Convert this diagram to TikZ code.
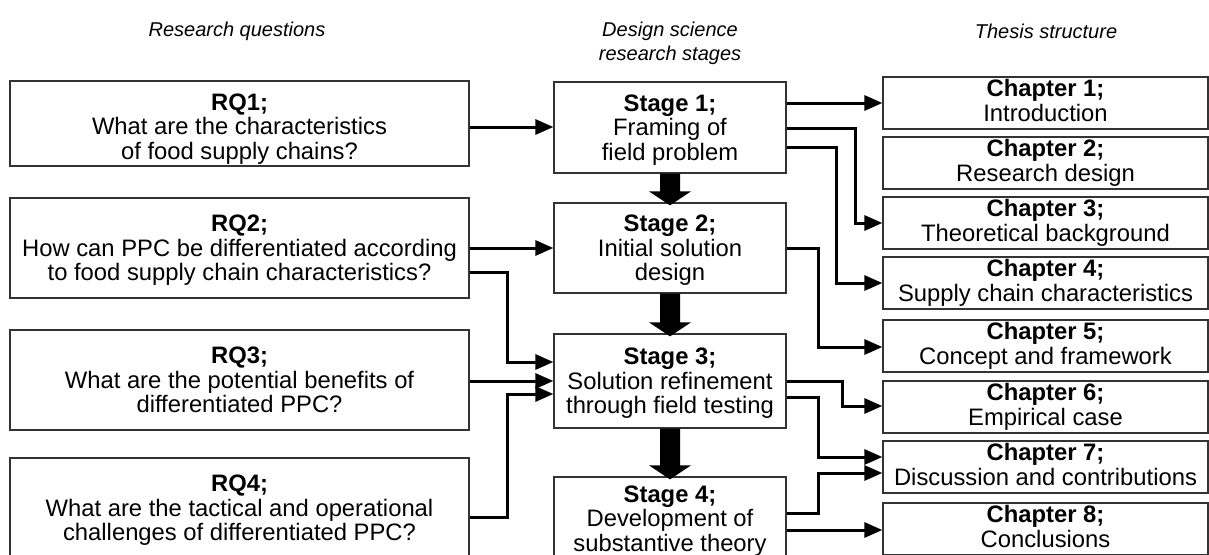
\documentclass[tikz,border=0pt]{standalone}
\usepackage{fontspec}
\setmainfont{Liberation Sans}
\usetikzlibrary{arrows.meta,calc}
% fixed line struts so that every box centres its lines the same way
\newcommand\firstline[1]{\rule{0pt}{#1}}
\newcommand\lastline{\rule[-6pt]{0pt}{6pt}}
\begin{document}
\begin{tikzpicture}[x=1pt,y=-1pt,
  box/.style={draw=black!80, line width=1.3pt, fill=white, inner sep=0pt,
    align=center, font=\fontsize{23.8}{24.5}\selectfont},
  rqbox/.style={box, minimum width=459pt},
  stagebox/.style={box, minimum width=232pt},
  chapbox/.style={box, minimum width=325pt, minimum height=52pt},
  colhead/.style={font=\fontsize{20}{24}\selectfont\itshape, align=center},
  link/.style={line width=3pt, -{Triangle[length=18pt,width=15pt]}},
]
\clip (0,0) rectangle (1209,554);
\fill[white] (0,0) rectangle (1209,554);

% column headings
\node[colhead] (hrq) at (237,31) {Research questions};
\node[colhead] (hds) at (670,43) {Design science\\research stages};
\node[colhead] (hts) at (1046,31) {Thesis structure};

% research questions
\node[rqbox, minimum height=85pt] (rq1) at (239.5,123.5)
  {\firstline{28pt}\textbf{RQ1;}\\What are the characteristics\\of food supply chains?\lastline};
\node[rqbox, minimum height=100pt] (rq2) at (239.5,248)
  {\firstline{22pt}\textbf{RQ2;}\\How can PPC be differentiated according\\to food supply chain characteristics?\lastline};
\node[rqbox, minimum height=100pt] (rq3) at (239.5,380)
  {\firstline{22pt}\textbf{RQ3;}\\What are the potential benefits of\\differentiated PPC?\lastline};
\node[rqbox, minimum height=100pt] (rq4) at (239.5,508)
  {\firstline{22pt}\textbf{RQ4;}\\What are the tactical and operational\\challenges of differentiated PPC?\lastline};

% design science stages
\node[stagebox, minimum height=91pt] (s1) at (670,127.5)
  {\firstline{22pt}\textbf{Stage 1;}\\Framing of\\field problem\lastline};
\node[stagebox, minimum height=90pt] (s2) at (670,248)
  {\firstline{22pt}\textbf{Stage 2;}\\Initial solution\\design\lastline};
\node[stagebox, minimum height=94pt] (s3) at (670,381)
  {\firstline{22pt}\textbf{Stage 3;}\\Solution refinement\\through field testing\lastline};
\node[stagebox, minimum height=88pt] (s4) at (670,521)
  {\firstline{16pt}\textbf{Stage 4;}\\Development of\\substantive theory};

% thesis chapters
\node[chapbox] (c1) at (1045.5,103) {\firstline{18pt}\textbf{Chapter 1;}\\Introduction\lastline};
\node[chapbox] (c2) at (1045.5,163) {\firstline{18pt}\textbf{Chapter 2;}\\Research design\lastline};
\node[chapbox] (c3) at (1045.5,223) {\firstline{18pt}\textbf{Chapter 3;}\\Theoretical background\lastline};
\node[chapbox] (c4) at (1045.5,283) {\firstline{18pt}\textbf{Chapter 4;}\\Supply chain characteristics\lastline};
\node[chapbox] (c5) at (1045.5,346) {\firstline{18pt}\textbf{Chapter 5;}\\Concept and framework\lastline};
\node[chapbox] (c6) at (1045.5,407) {\firstline{18pt}\textbf{Chapter 6;}\\Empirical case\lastline};
\node[chapbox] (c7) at (1045.5,467) {\firstline{18pt}\textbf{Chapter 7;}\\Discussion and contributions\lastline};
\node[chapbox] (c8) at (1045.5,529) {\firstline{18pt}\textbf{Chapter 8;}\\Conclusions\lastline};

% block arrows between consecutive stages
\newcommand\stagearrow[2]{%
  \fill ($(#1.south)+(-10,0)$) -- ($(#2.north)+(-10,-11)$)
    -- ($(#2.north)+(-21,-11)$) -- ($(#2.north)+(0,3)$)
    -- ($(#2.north)+(21,-11)$) -- ($(#2.north)+(10,-11)$)
    -- ($(#1.south)+(10,0)$) -- cycle;}
\stagearrow{s1}{s2}
\stagearrow{s2}{s3}
\stagearrow{s3}{s4}

% research questions to stages
\draw[link] (rq1.east |- 0,127) -- (s1.west |- 0,127);
\draw[link] (rq2.east |- 0,248) -- (s2.west |- 0,248);
\draw[link] (rq2.east |- 0,272) -- (507,272) |- (s3.west |- 0,362);
\draw[link] (rq3.east |- 0,381) -- (s3.west |- 0,381);
\draw[link] (rq4.east |- 0,517) -- (507,517) |- (s3.west |- 0,394);

% stages to chapters
\draw[link] (s1.east |- 0,103) -- (c1.west |- 0,103);
\draw[link] (s1.east |- 0,128) -- (855,128) |- (c3.west |- 0,223);
\draw[link] (s1.east |- 0,147) -- (836,147) |- (c4.west |- 0,283);
\draw[link] (s2.east |- 0,248) -- (818,248) |- (c5.west |- 0,347);
\draw[link] (s3.east |- 0,381) -- (842,381) |- (c6.west |- 0,406);
\draw[link] (s3.east |- 0,397) -- (818,397) |- (c7.west |- 0,457);
\draw[link] (s4.east |- 0,513) -- (818,513) |- (c7.west |- 0,473);
\draw[link] (s4.east |- 0,530) -- (c8.west |- 0,530);
\end{tikzpicture}
\end{document}
